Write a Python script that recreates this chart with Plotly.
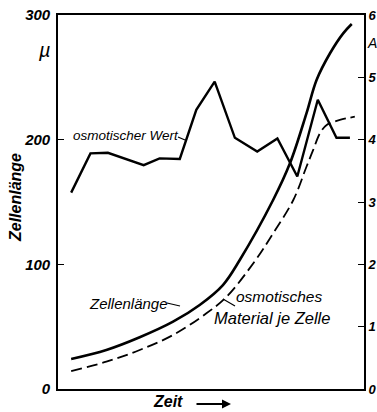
import plotly.graph_objects as go

# ---- data ----
# osmotischer Wert (right axis, A)
osm_x = [4.3, 10.6, 16.3, 28.0, 33.2, 39.8, 45.2, 51.2, 57.8, 65.1, 71.7, 78.2, 84.9, 91.0, 95.4]
osm_y = [3.15, 3.78, 3.79, 3.59, 3.70, 3.69, 4.48, 4.93, 4.03, 3.81, 4.02, 3.41, 4.64, 4.03, 4.03]

# Zellenlänge (left axis, µ)
len_x = [4.3, 15.8, 26.7, 37.6, 46.3, 53.9, 59.4, 70.3, 75.8, 81.2, 84.5, 88.9, 93.2, 96.0]
len_y = [24.1, 31.3, 41.5, 54.0, 67.4, 83.4, 103.5, 151.6, 181.0, 221.1, 247.9, 269.3, 285.3, 292.8]

# osmotisches Material je Zelle (relative, plotted on left scale)
mat_x = [4.3, 15.8, 26.7, 37.6, 48.5, 55.1, 64.6, 70.3, 76.9, 81.2, 83.4, 85.6, 87.8, 92.1, 97.0]
mat_y = [14.4, 21.9, 31.3, 43.3, 60.7, 74.0, 103.5, 124.9, 151.6, 178.3, 191.8, 205.1, 211.8, 215.8, 218.4]

left_ticks = [0, 100, 200, 300]
right_ticks = [0, 1, 2, 3, 4, 5, 6]

W, H = 377, 412
L, R, T, B = 58, 13, 15, 23
PW, PH = W - L - R, H - T - B


def P(px, py):
    return (px - L) / PW, (H - B - py) / PH


FONT = "Liberation Sans Narrow, Liberation Sans, Arial, sans-serif"

fig = go.Figure()
fig.add_trace(go.Scatter(x=len_x, y=len_y, mode="lines", line=dict(color="black", width=2.6, shape="spline"),
                         yaxis="y", showlegend=False))
fig.add_trace(go.Scatter(x=mat_x, y=mat_y, mode="lines",
                         line=dict(color="black", width=1.8, shape="spline", dash="11px,5px"),
                         yaxis="y", showlegend=False))
fig.add_trace(go.Scatter(x=osm_x, y=osm_y, mode="lines", line=dict(color="black", width=2.4),
                         yaxis="y2", showlegend=False))

tickfont = dict(family=FONT, size=15, color="black", style="italic", weight="bold")
tickfont_r = dict(family=FONT, size=13, color="black", style="italic", weight="bold")

fig.update_layout(
    width=W, height=H, autosize=False,
    margin=dict(l=L, r=R, t=T, b=B, pad=0),
    paper_bgcolor="white", plot_bgcolor="white",
    xaxis=dict(range=[0, 100], showticklabels=False, ticks="", showgrid=False, zeroline=False,
               showline=True, linecolor="black", linewidth=1.6, mirror=True, automargin=False),
    yaxis=dict(range=[0, 300], tickvals=left_ticks, ticks="inside", ticklen=6, tickwidth=1.4,
               tickcolor="black", showgrid=False, zeroline=False, showline=True, linecolor="black",
               linewidth=1.6, tickfont=tickfont, ticklabelstandoff=3, automargin=False),
    yaxis2=dict(range=[0, 6], tickvals=right_ticks, ticks="inside", ticklen=6, tickwidth=1.4,
                tickcolor="black", overlaying="y", side="right", showgrid=False, zeroline=False,
                showline=True, linecolor="black", linewidth=1.6, tickfont=tickfont_r, ticklabelstandoff=0,
                automargin=False),
)

ann = []


def text(px, py, s, size=15, angle=0, xanchor="center", weight="normal"):
    x, y = P(px, py)
    ann.append(dict(x=x, y=y, xref="paper", yref="paper", text=s, showarrow=False, textangle=angle,
                    xanchor=xanchor, yanchor="middle",
                    font=dict(family=FONT, size=size, color="black", style="italic", weight=weight)))


text(44, 50, "µ", size=20)
text(365, 43, "A", size=14, xanchor="left")
text(16, 197, "Zellenlänge", size=16, angle=-90, weight="bold")
text(126, 135, "osmotischer Wert", size=13.5)
text(128, 303, "Zellenlänge", size=15)
text(279, 296, "osmotisches", size=15.5)
text(272, 318, "Material je Zelle", size=16.5)
text(168, 402, "Zeit", size=16, weight="bold")

ax0, ay0 = P(231, 404)
ann.append(dict(x=ax0, y=ay0, xref="paper", yref="paper", ax=-36, ay=0, showarrow=True,
                arrowhead=2, arrowsize=1, arrowwidth=1.8, arrowcolor="black", text=""))
fig.update_layout(annotations=ann)

shapes = []
for (x0, y0, x1, y1) in [(178, 137, 185, 140), (167, 303, 180, 306), (223, 299, 235, 306)]:
    a, b = P(x0, y0)
    c, d = P(x1, y1)
    shapes.append(dict(type="line", xref="paper", yref="paper", x0=a, y0=b, x1=c, y1=d,
                       line=dict(color="black", width=1.2)))
fig.update_layout(shapes=shapes)

fig.write_html("out.html", config={"displayModeBar": False},
               post_script="document.body.style.margin='0px';document.body.style.overflow='hidden';")
